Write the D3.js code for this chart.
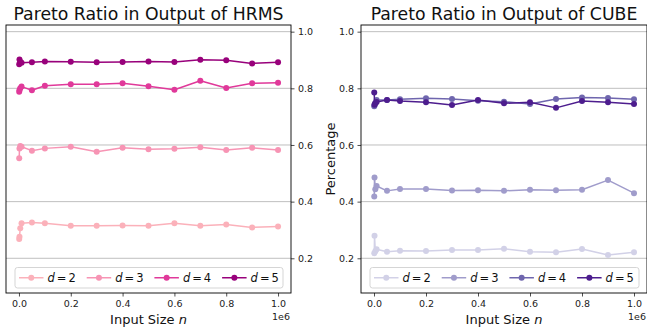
<!DOCTYPE html>
<html>
<head>
<meta charset="utf-8">
<script src="https://cdn.jsdelivr.net/npm/d3@7"></script>
<style>
    body { margin: 0; background: #fff; }
    svg { font-family: "DejaVu Sans", sans-serif; display: block; }
</style>
</head>
<body>
<svg id="chart"></svg>
<script>
// input sizes (x values)
const sizes = [1000, 2000, 5000, 10000, 50000, 100000, 200000, 300000, 400000, 500000, 600000, 700000, 800000, 900000, 1000000];
const dims = ['2', '3', '4', '5'];
const xTicks = [0, 200000, 400000, 600000, 800000, 1000000];
const yTicks = [0.2, 0.4, 0.6, 0.8, 1.0];

// HRMS ratios
const hrms_d2 = [0.268, 0.276, 0.306, 0.324, 0.326, 0.324, 0.315, 0.315, 0.316, 0.315, 0.324, 0.315, 0.319, 0.309, 0.312];
const hrms_d3 = [0.553, 0.588, 0.596, 0.594, 0.580, 0.588, 0.594, 0.576, 0.590, 0.585, 0.587, 0.592, 0.582, 0.590, 0.582];
const hrms_d4 = [0.788, 0.794, 0.800, 0.806, 0.793, 0.809, 0.814, 0.814, 0.818, 0.807, 0.795, 0.827, 0.801, 0.818, 0.820];
const hrms_d5 = [0.885, 0.902, 0.894, 0.890, 0.892, 0.895, 0.894, 0.892, 0.893, 0.895, 0.893, 0.901, 0.899, 0.888, 0.892];

// CUBE ratios
const cube_d2 = [0.218, 0.280, 0.225, 0.232, 0.223, 0.227, 0.226, 0.229, 0.229, 0.234, 0.223, 0.221, 0.233, 0.212, 0.221];
const cube_d3 = [0.418, 0.485, 0.444, 0.455, 0.438, 0.445, 0.445, 0.439, 0.440, 0.438, 0.442, 0.440, 0.442, 0.476, 0.430];
const cube_d4 = [0.737, 0.741, 0.748, 0.759, 0.759, 0.761, 0.765, 0.762, 0.756, 0.753, 0.745, 0.762, 0.768, 0.766, 0.761];
const cube_d5 = [0.785, 0.742, 0.747, 0.752, 0.759, 0.755, 0.751, 0.741, 0.759, 0.747, 0.751, 0.731, 0.755, 0.751, 0.745];

const width = 647, height = 329;
const top_ = 25, bottom = 293;

const svg = d3.select('#chart')
    .attr('width', width)
    .attr('height', height);

drawPanel({
    title: 'Pareto Ratio in Output of HRMS',
    left: 6, right: 291,
    series: [hrms_d2, hrms_d3, hrms_d4, hrms_d5],
    colors: ['#fbb1ba', '#f794b4', '#e0399a', '#98017b'],
    yRight: true
});

drawPanel({
    title: 'Pareto Ratio in Output of CUBE',
    left: 361, right: 647,
    series: [cube_d2, cube_d3, cube_d4, cube_d5],
    colors: ['#d2d1e7', '#a09ccb', '#6f66ae', '#4d1d8e'],
    yRight: false,
    ylabel: 'Percentage'
});

function drawPanel(o) {
    const g = svg.append('g');

    const x = d3.scaleLinear()
        .domain([-50000, 1050000])
        .range([o.left, o.right]);

    const y = d3.scaleLinear()
        .domain([0.0775, 1.0235])
        .range([bottom, top_]);

    // grid
    g.append('g')
        .selectAll('line')
        .data(yTicks)
        .enter()
        .append('line')
        .attr('x1', o.left).attr('x2', o.right)
        .attr('y1', d => y(d)).attr('y2', d => y(d))
        .attr('stroke', '#b8b8b8')
        .attr('stroke-width', 0.9);

    // x axis
    const xAxis = g.append('g')
        .attr('transform', `translate(0, ${bottom})`)
        .call(d3.axisBottom(x)
            .tickValues(xTicks)
            .tickSize(3.5)
            .tickPadding(3.5)
            .tickFormat(d => (d / 1e6).toFixed(1)));
    xAxis.select('.domain').remove();

    // y axis
    const yAxisFn = o.yRight ? d3.axisRight(y) : d3.axisLeft(y);
    const yAxis = g.append('g')
        .attr('transform', `translate(${o.yRight ? o.right : o.left}, 0)`)
        .call(yAxisFn
            .tickValues(yTicks)
            .tickSize(3.5)
            .tickPadding(3.5)
            .tickFormat(d => d.toFixed(1)));
    yAxis.select('.domain').remove();

    g.selectAll('.tick text')
        .attr('font-family', '"DejaVu Sans", sans-serif')
        .attr('font-size', 9.5)
        .attr('fill', '#222');
    g.selectAll('.tick line').attr('stroke', '#222').attr('stroke-width', 0.8);

    // series
    const line = d3.line()
        .x((d, i) => x(sizes[i]))
        .y(d => y(d));

    o.series.forEach(function(data, k) {
        const s = g.append('g');
        s.append('path')
            .datum(data)
            .attr('d', line)
            .attr('fill', 'none')
            .attr('stroke', o.colors[k])
            .attr('stroke-width', 1.5)
            .attr('stroke-linejoin', 'round');
        s.selectAll('circle')
            .data(data)
            .enter()
            .append('circle')
            .attr('cx', (d, i) => x(sizes[i]))
            .attr('cy', d => y(d))
            .attr('r', 3)
            .attr('fill', o.colors[k]);
    });

    // frame
    g.append('rect')
        .attr('x', o.left).attr('y', top_)
        .attr('width', o.right - o.left).attr('height', bottom - top_)
        .attr('fill', 'none')
        .attr('stroke', '#000')
        .attr('stroke-width', 0.9);

    // legend
    const lx = o.left + 9, ly = 267.5, lw = o.right - o.left - 17, lh = 20.5;
    g.append('rect')
        .attr('x', lx).attr('y', ly)
        .attr('width', lw).attr('height', lh)
        .attr('rx', 2.5)
        .attr('fill', 'white').attr('fill-opacity', 0.8)
        .attr('stroke', '#d0d0d0').attr('stroke-width', 0.9);

    dims.forEach(function(d, k) {
        const ex = lx + 4 + k * 67.7;
        const ey = ly + lh / 2;
        const item = g.append('g');
        item.append('line')
            .attr('x1', ex).attr('x2', ex + 24.5)
            .attr('y1', ey).attr('y2', ey)
            .attr('stroke', o.colors[k])
            .attr('stroke-width', 1.5);
        item.append('circle')
            .attr('cx', ex + 12.25).attr('cy', ey)
            .attr('r', 3)
            .attr('fill', o.colors[k]);
        const t = item.append('text')
            .attr('x', ex + 28.5).attr('y', ey + 4.2)
            .attr('font-size', 11.5)
            .attr('fill', '#111');
        t.append('tspan').attr('font-style', 'italic').text('d');
        t.append('tspan').attr('dx', 2).text('=');
        t.append('tspan').attr('dx', 2).text(d);
    });

    // title
    g.append('text')
        .attr('x', (o.left + o.right) / 2).attr('y', 20)
        .attr('text-anchor', 'middle')
        .attr('font-size', 17.3)
        .attr('fill', '#111')
        .text(o.title);

    // x label
    const xl = g.append('text')
        .attr('x', (o.left + o.right) / 2).attr('y', 323.5)
        .attr('text-anchor', 'middle')
        .attr('font-size', 13)
        .attr('fill', '#111');
    xl.append('tspan').text('Input Size ');
    xl.append('tspan').attr('font-style', 'italic').text('n');

    // offset text
    g.append('text')
        .attr('x', o.right - 1).attr('y', 320)
        .attr('text-anchor', 'end')
        .attr('font-size', 9.5)
        .attr('fill', '#222')
        .text('1e6');

    if (o.ylabel) {
        g.append('text')
            .attr('transform', `translate(${o.left - 26.5}, ${(top_ + bottom) / 2}) rotate(-90)`)
            .attr('text-anchor', 'middle')
            .attr('font-size', 13)
            .attr('fill', '#111')
            .text(o.ylabel);
    }
}
</script>
</body>
</html>
